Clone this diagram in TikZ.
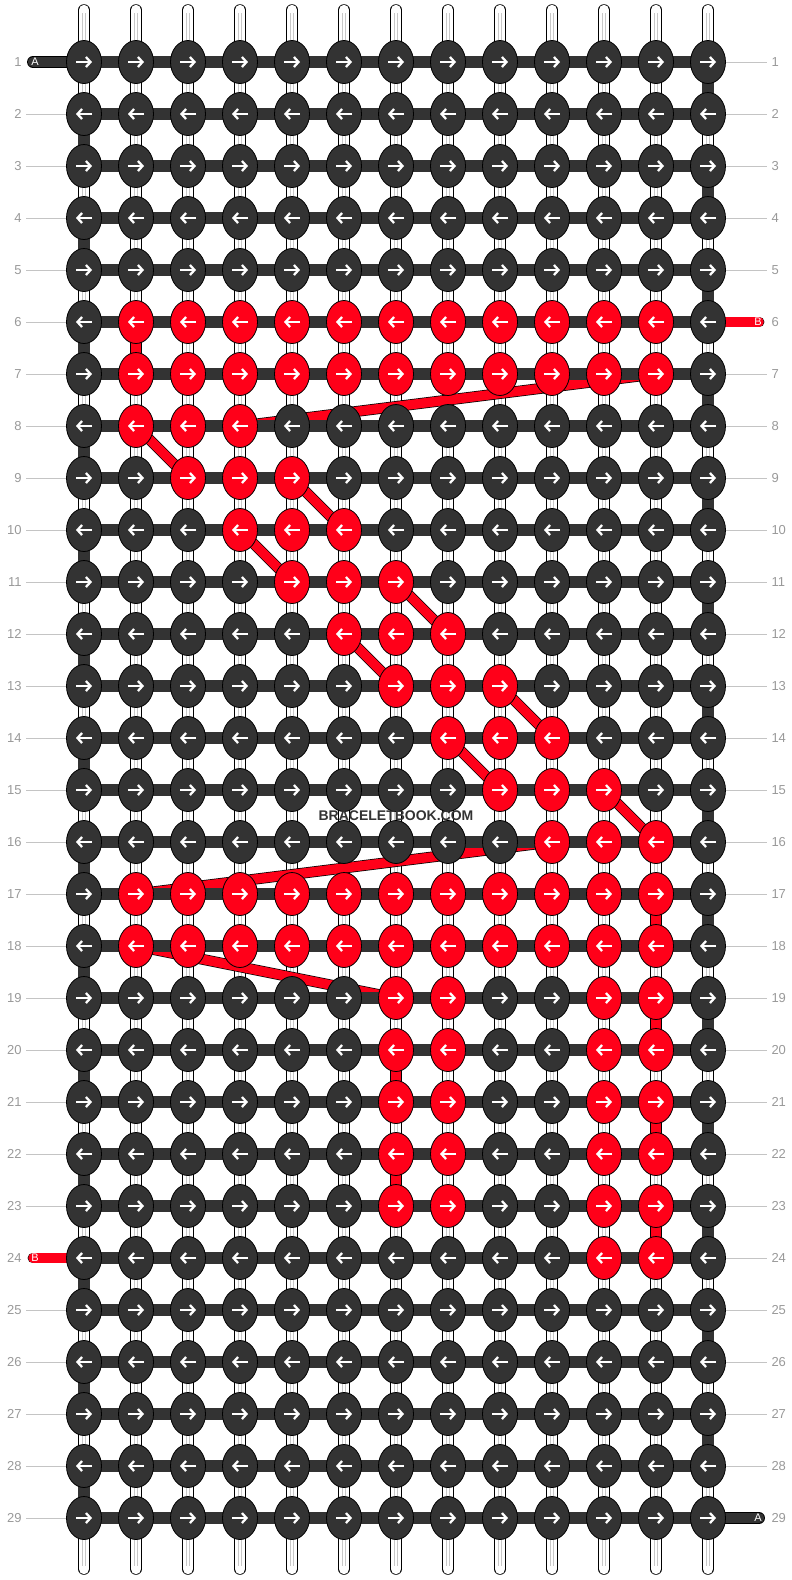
\documentclass[tikz,border=0pt]{standalone}
\usepackage{fontspec}
\setmainfont{Liberation Sans}
\usetikzlibrary{shapes.geometric,arrows.meta}

\definecolor{knotgray}{HTML}{333333}
\definecolor{knotred}{HTML}{FF0019}
\definecolor{numgray}{HTML}{999999}
\definecolor{rulegray}{HTML}{C4C4C4}
\definecolor{coregray}{HTML}{C8C8C8}

\begin{document}
\begin{tikzpicture}[x=1pt,y=-1pt,
	main knot/.style = {ellipse,draw=black,line width=0.8pt,inner sep=0pt,minimum width=35pt,minimum height=43pt},
	knot arrow/.style = {white,line width=2.3pt,-{Straight Barb[length=4.5pt,width=10pt]}},
	base thread/.style = {draw=black,double=white,double distance=10.4pt,line width=0.6pt,line cap=round},
	thread core/.style = {draw=coregray,double=white,double distance=2pt,line width=0.6pt},
	row bar/.style = {knotgray,line width=12pt},
	turn bar/.style = {knotgray,line width=12pt},
	red band/.style = {draw=black,double=knotred,double distance=9.5pt,line width=0.7pt},
	dark band/.style = {draw=black,double=knotgray,double distance=10.5pt,line width=0.7pt},
	row num/.style = {text=numgray,font=\fontsize{13}{15}\selectfont,inner sep=2pt,outer sep=2.5pt},
	row rule/.style = {rulegray,line width=1pt},
	tail tag/.style = {text=white,font=\fontsize{11}{13}\selectfont,inner sep=0pt}]
	
	\useasboundingbox (0,0) rectangle (792,1580);
	
	% grid points
	\foreach \r in {1,...,29}
	\foreach \c in {1,...,13}
	\coordinate (p-\r-\c) at ({84+52*(\c-1)},{62+52*(\r-1)});
	
	% white base threads
	\foreach \c in {1,...,13}{
		\coordinate (top-\c) at ({84+52*(\c-1)},10);
		\coordinate (bot-\c) at ({84+52*(\c-1)},1569);
		\draw[base thread] (top-\c) -- (bot-\c);
		\draw[thread core,shorten <=3pt,shorten >=3pt] (top-\c) -- (bot-\c);
	}
	
	% turns at the edges
	\foreach \r in {2,4,...,28}{
		\pgfmathtruncatemacro\n{\r+1}
		\draw[turn bar] (p-\r-1) -- (p-\n-1);
	}
	\foreach \r in {1,3,...,27}{
		\pgfmathtruncatemacro\n{\r+1}
		\draw[turn bar] (p-\r-13) -- (p-\n-13);
	}
	\foreach \r/\c in {6/2,17/12,19/12,21/12,23/12,20/7,22/7}{
		\pgfmathtruncatemacro\n{\r+1}
		\draw[red band] (p-\r-\c) -- (p-\n-\c);
	}
	
	% red thread behind
	\foreach \a/\b in {7-12/8-4,8-2/9-3,9-5/10-6,10-4/11-5,11-7/12-8,12-6/13-7,
		13-9/14-10,14-8/15-9,15-11/16-12,16-10/17-2,18-2/19-7}
	\draw[red band] (p-\a) -- (p-\b);
	
	% loose ends
	\coordinate (end-a1) at (33,62);
	\coordinate (end-b6) at (759,322);
	\coordinate (end-b24) at (33,1258);
	\coordinate (end-a29) at (759,1518);
	\draw[dark band,line cap=round] (end-a1) -- (p-1-1);
	\draw[red band,line cap=round] (p-6-13) -- (end-b6);
	\draw[red band,line cap=round] (end-b24) -- (p-24-1);
	\draw[dark band,line cap=round] (p-29-13) -- (end-a29);
	
	% rows
	\foreach \r in {1,...,29}
	\draw[row bar] (p-\r-1) -- (p-\r-13);
	
	% knots
	\foreach \r in {1,...,29}
	\foreach \c in {1,...,13}{
		\pgfmathtruncatemacro\isred{(((\r==6)||(\r==7)||(\r==17)||(\r==18))&&(\c>1)&&(\c<13))
			||((\r>7)&&(\r<17)&&(\c>(\r-7))&&(\c<(\r-3)))
			||((\r>18)&&(\r<24)&&((\c==7)||(\c==8)||(\c==11)||(\c==12)))
			||((\r==24)&&((\c==11)||(\c==12)))}
		\ifnum\isred=1 \def\kfill{knotred}\else\def\kfill{knotgray}\fi
		\node[main knot,fill=\kfill] (k-\r-\c) at (p-\r-\c) {};
		\ifodd\r
		\draw[knot arrow] ([xshift=-8pt]k-\r-\c.center) -- ([xshift=8pt]k-\r-\c.center);
		\else
		\draw[knot arrow] ([xshift=8pt]k-\r-\c.center) -- ([xshift=-8pt]k-\r-\c.center);
		\fi
	}
	
	% row numbers
	\foreach \r in {1,...,29}{
		\node[row num,anchor=east] (nl-\r) at (26,{62+52*(\r-1)}) {\r};
		\node[row num,anchor=west] (nr-\r) at (767,{62+52*(\r-1)}) {\r};
	}
	\foreach \r in {2,...,23,25,26,27,28,29}
	\draw[row rule] (nl-\r) -- (k-\r-1);
	\foreach \r in {1,...,5,7,8,...,28}
	\draw[row rule] (k-\r-13) -- (nr-\r);
	
	\node[tail tag] (tag-a1) at (35,62) {A};
	\node[tail tag] (tag-b6) at (758,322) {B};
	\node[tail tag] (tag-b24) at (35,1258) {B};
	\node[tail tag] (tag-a29) at (758,1518) {A};
	
	\node[font=\bfseries\fontsize{14}{16}\selectfont,text=knotgray] (mark) at (396,816) {BRACELETBOOK.COM};
\end{tikzpicture}
\end{document}
